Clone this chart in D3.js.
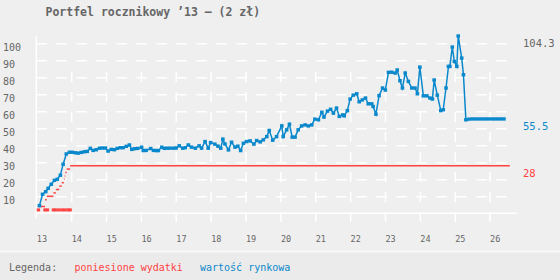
<!doctype html>
<html lang="pl">
<head>
  <meta charset="utf-8">
  <title>Portfel rocznikowy '13</title>
  <script src="https://cdn.jsdelivr.net/npm/d3@7"></script>
  <style>
    body { margin: 0; background: #efefef; }
    svg { display: block; font-family: "DejaVu Sans Mono", monospace; }
  </style>
</head>
<body>
  <svg id="chart"></svg>

  <script>
    // tick labels
    var years = [13, 14, 15, 16, 17, 18, 19, 20, 21, 22, 23, 24, 25, 26];
    var yTicks = [10, 20, 30, 40, 50, 60, 70, 80, 90, 100];

    // wartosc rynkowa (blue)
    var blueDates = [
      13.09, 13.18, 13.27, 13.34, 13.43, 13.52, 13.60, 13.69, 13.77, 13.86, 13.95,
      14.03, 14.12, 14.20, 14.29, 14.38, 14.46, 14.55, 14.63, 14.72, 14.81, 14.89, 14.98,
      15.06, 15.15, 15.24, 15.32, 15.41, 15.49, 15.58, 15.67, 15.74, 15.82, 15.91,
      16.02, 16.07, 16.15, 16.28, 16.36, 16.44, 16.50, 16.60, 16.67, 16.74, 16.83, 16.93,
      17.01, 17.10, 17.20, 17.27, 17.36, 17.45, 17.56, 17.67, 17.74, 17.84, 17.93,
      18.00, 18.12, 18.21, 18.29, 18.35, 18.41, 18.51, 18.60, 18.70, 18.78, 18.86, 18.94,
      19.03, 19.13, 19.24, 19.32, 19.42, 19.51, 19.61, 19.68, 19.78, 19.89,
      20.04, 20.08, 20.18, 20.26, 20.34, 20.42, 20.51, 20.61, 20.71, 20.80, 20.90, 20.99,
      21.09, 21.19, 21.25, 21.35, 21.44, 21.52, 21.61, 21.69, 21.79, 21.83, 21.92,
      22.00, 22.09, 22.19, 22.26, 22.35, 22.44, 22.52, 22.62, 22.66, 22.74, 22.83, 22.93,
      23.01, 23.10, 23.19, 23.29, 23.35, 23.43, 23.50, 23.58, 23.67, 23.77, 23.86, 23.93,
      24.00, 24.10, 24.20, 24.29, 24.36, 24.41, 24.50, 24.60, 24.67, 24.75, 24.82, 24.86, 24.93, 24.99,
      25.06, 25.10, 25.20, 25.25, 25.32, 25.41, 25.51, 25.61, 25.71, 25.81, 25.91,
      26.01, 26.11, 26.21, 26.31, 26.41
    ];
    var blueValues = [
      4.5, 11.2, 12.7, 14.7, 17.1, 19.4, 20.0, 22.4, 28.9, 34.9, 35.9,
      35.9, 35.6, 35.4, 35.8, 36.2, 36.4, 38.2, 37.0, 37.4, 38.3, 38.4, 38.4,
      36.6, 37.6, 37.4, 38.2, 38.6, 38.6, 39.4, 40.2, 37.6, 38.0, 38.2,
      38.9, 36.9, 37.0, 38.1, 37.0, 36.9, 36.9, 38.9, 38.2, 38.3, 38.3, 38.3,
      38.4, 39.7, 38.3, 38.6, 40.2, 38.9, 38.3, 39.7, 38.3, 42.2, 38.3,
      41.6, 40.7, 39.5, 38.3, 43.6, 40.8, 37.3, 41.8, 38.9, 39.5, 36.9, 41.2,
      42.2, 42.6, 40.7, 42.8, 42.0, 43.2, 45.1, 48.7, 43.0, 45.1,
      51.4, 45.1, 49.1, 52.4, 44.8, 44.8, 49.1, 51.4, 52.0, 51.4, 52.0, 55.4,
      55.0, 59.4, 56.6, 60.1, 61.2, 58.9, 61.9, 57.0, 57.9, 57.3, 60.4,
      67.2, 69.5, 70.3, 65.6, 66.7, 67.8, 64.4, 64.4, 62.8, 58.3, 69.2, 73.7,
      72.5, 82.9, 83.0, 82.5, 84.3, 78.0, 73.7, 82.5, 77.6, 73.7, 73.7, 70.3,
      86.0, 69.1, 69.1, 67.8, 67.2, 78.4, 69.5, 60.4, 60.9, 73.7, 86.4, 86.4, 97.8, 89.3,
      86.4, 104.3, 91.3, 81.5, 55.0, 55.4, 55.5, 55.5, 55.5, 55.5, 55.5,
      55.5, 55.5, 55.5, 55.5, 55.5
    ];

    // poniesione wydatki (red), cumulative
    var redDates = [13.06, 13.25, 13.30, 13.49, 13.56, 13.66, 13.73, 13.79, 13.81, 13.83, 13.87, 13.97];
    var redValues = [4, 8, 10, 12, 14, 16, 18, 20, 22, 24, 26, 28];
    var redEnd = 26.58;

    // single purchases
    var buyDates = [13.06, 13.25, 13.32, 13.49, 13.56, 13.65, 13.74, 13.82, 13.91, 13.97];
    var buyAmounts = [2, 2, 2, 2, 2, 2, 2, 2, 2, 2];

    // end labels
    var maxValue = 104.3;
    var lastValue = 55.5;
    var spentValue = 28;

    var WIDTH = 560;
    var HEIGHT = 280;
    var BLUE = "#0a88cc";
    var RED = "#ff4343";
    var GREY = "#666";

    var svg = d3.select("#chart").attr("width", WIDTH).attr("height", HEIGHT);

    svg.append("rect").attr("width", WIDTH).attr("height", HEIGHT).attr("fill", "#efefef");
    svg.append("rect").attr("y", 252).attr("width", WIDTH).attr("height", 28).attr("fill", "#ebebeb");
    svg.append("line").attr("x1", 0).attr("x2", WIDTH).attr("y1", 251.5).attr("y2", 251.5)
      .attr("stroke", "#f8f8f8").attr("stroke-width", 2);

    var x = d3.scaleLinear().domain([13, 26]).range([36.3, 489.6]);
    var y = d3.scaleLinear().domain([0, 100]).range([213.3, 43.3]);

    // horizontal grid
    svg.append("g")
      .attr("class", "grid")
      .attr("transform", "translate(" + x(13) + ",0)")
      .call(d3.axisLeft(y).tickValues(yTicks).tickSize(-480).tickFormat(""))
      .call(function(g) { g.select(".domain").remove(); })
      .selectAll("line")
      .attr("stroke", "#fff").attr("stroke-width", 1.5).attr("stroke-dasharray", "10.5,9.5");

    // vertical grid
    svg.append("g")
      .attr("class", "grid")
      .attr("transform", "translate(0,222)")
      .call(d3.axisBottom(x).tickValues(years.slice(1)).tickSize(-159).tickFormat(""))
      .call(function(g) { g.select(".domain").remove(); })
      .selectAll("line")
      .attr("stroke", "#fff").attr("stroke-width", 1.5).attr("stroke-dasharray", "10,10");

    // axes lines
    svg.append("line").attr("x1", x(13)).attr("x2", x(13)).attr("y1", 36).attr("y2", 218)
      .attr("stroke", "#fff").attr("stroke-width", 1.5);
    svg.append("line").attr("x1", x(13)).attr("x2", 516.5).attr("y1", y(0)).attr("y2", y(0))
      .attr("stroke", "#fff").attr("stroke-width", 1.5);

    // tick labels
    svg.append("g").selectAll("text").data(yTicks).enter().append("text")
      .attr("x", 3).attr("y", function(d) { return y(d) + 7.3; })
      .attr("font-size", "10px").attr("fill", GREY)
      .text(function(d) { return d; });

    svg.append("g").selectAll("text").data(years).enter().append("text")
      .attr("x", function(d) { return x(d) + 0.5; }).attr("y", 242)
      .attr("font-size", "8.5px").attr("fill", GREY)
      .text(function(d) { return d; });

    // red: cumulative spending as flat steps
    svg.append("g").selectAll("line").data(redDates).enter().append("line")
      .attr("x1", function(d) { return x(d); })
      .attr("x2", function(d, i) { return x(i < redDates.length - 1 ? redDates[i + 1] : redEnd); })
      .attr("y1", function(d, i) { return y(redValues[i]); })
      .attr("y2", function(d, i) { return y(redValues[i]); })
      .attr("stroke", RED).attr("stroke-width", 1.5);

    svg.append("g").selectAll("rect").data(buyDates).enter().append("rect")
      .attr("x", function(d) { return x(d) - 1.7; })
      .attr("y", function(d, i) { return y(buyAmounts[i]) - 1.5; })
      .attr("width", 3.4).attr("height", 3)
      .attr("fill", RED);

    // blue: market value
    var blueData = blueDates.map(function(d, i) { return [d, blueValues[i]]; });
    var line = d3.line()
      .x(function(d) { return x(d[0]); })
      .y(function(d) { return y(d[1]); });

    svg.append("path").datum(blueData).attr("d", line)
      .attr("fill", "none").attr("stroke", BLUE).attr("stroke-width", 1.5);

    svg.append("g").selectAll("rect").data(blueData).enter().append("rect")
      .attr("x", function(d) { return x(d[0]) - 1.8; })
      .attr("y", function(d) { return y(d[1]) - 1.7; })
      .attr("width", 3.6).attr("height", 3.4)
      .attr("fill", BLUE);

    // end labels
    svg.append("text").attr("x", 523).attr("y", y(maxValue) + 11)
      .attr("font-size", "10.5px").attr("fill", GREY).text(maxValue.toFixed(1));
    svg.append("text").attr("x", 523).attr("y", y(lastValue) + 11)
      .attr("font-size", "10.5px").attr("fill", BLUE).text(lastValue.toFixed(1));
    svg.append("text").attr("x", 523).attr("y", y(spentValue) + 11)
      .attr("font-size", "10.5px").attr("fill", RED).text(spentValue);

    // title
    svg.append("text").attr("x", 45.5).attr("y", 15.5)
      .attr("font-size", "11.5px").attr("font-weight", "bold").attr("fill", GREY)
      .text("Portfel rocznikowy ’13 – (2 zł)");

    // legend
    svg.append("text").attr("x", 9).attr("y", 270.5).attr("font-size", "10px").attr("fill", GREY)
      .text("Legenda:");
    svg.append("text").attr("x", 74.5).attr("y", 270.5).attr("font-size", "10px").attr("fill", RED)
      .text("poniesione wydatki");
    svg.append("text").attr("x", 200).attr("y", 270.5).attr("font-size", "10px").attr("fill", BLUE)
      .text("wartość rynkowa");
  </script>
</body>
</html>
